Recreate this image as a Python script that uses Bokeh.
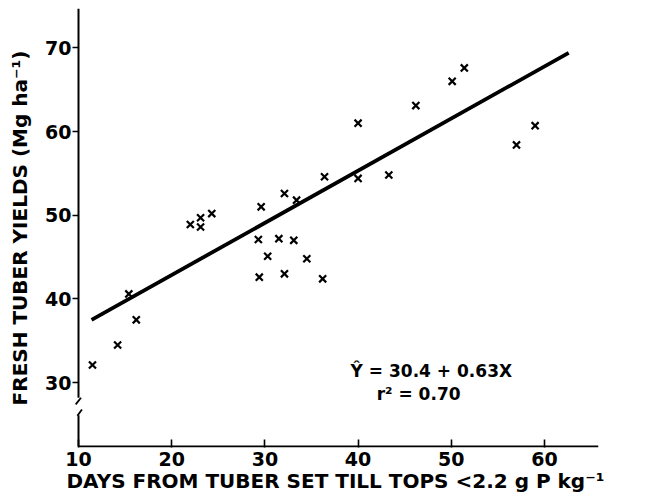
from bokeh.plotting import figure
from bokeh.models import FixedTicker, Label, Range1d
from bokeh.embed import file_html
from bokeh.resources import INLINE

# ---- data ----
days = [11.5, 14.2, 15.4, 16.2, 22.0, 23.1, 23.1, 24.3, 29.3, 29.4, 29.6, 30.3,
        31.5, 32.1, 32.1, 33.1, 33.4, 34.5, 36.2, 36.4, 40.0, 40.0, 43.3, 46.2,
        50.1, 51.4, 57.0, 59.0]
yields = [32.1, 34.5, 40.6, 37.5, 48.9, 49.7, 48.6, 50.2, 47.1, 42.6, 51.0, 45.1,
          47.2, 43.0, 52.6, 47.0, 51.8, 44.8, 42.4, 54.6, 61.0, 54.4, 54.8, 63.1,
          66.0, 67.6, 58.4, 60.7]
fit_x = [11.4, 62.6]
fit_y = [37.5, 69.4]
x_ticks = [10, 20, 30, 40, 50, 60]
y_ticks = [30, 40, 50, 60, 70]
equation = "Ŷ = 30.4 + 0.63X"
r2_text = "r² = 0.70"
x_title = "DAYS FROM TUBER SET TILL TOPS <2.2 g P kg⁻¹"
y_title = "FRESH TUBER YIELDS (Mg ha⁻¹)"

# axis extents (data units) and y-axis break
X_MIN, X_MAX = 10, 65.8
Y_MIN, Y_MAX = 22.36, 74.7
BREAK_LO, BREAK_HI = 26.1, 28.2

FONT = "DejaVu Sans"

p = figure(width=652, height=499, output_backend="svg", toolbar_location=None,
           x_range=Range1d(9.356, X_MAX), y_range=Range1d(22.25, Y_MAX),
           min_border_left=72, min_border_right=54, min_border_top=8,
           min_border_bottom=52)
p.outline_line_color = None
p.grid.visible = False
p.background_fill_color = "white"
p.border_fill_color = "white"

# hand-drawn axis lines (so the y axis can carry a break)
p.segment(x0=[X_MIN, X_MIN, X_MIN], y0=[Y_MIN, Y_MIN, BREAK_HI],
          x1=[X_MAX, X_MIN, X_MIN], y1=[Y_MIN, BREAK_LO, Y_MAX],
          line_color="black", line_width=2)
p.segment(x0=[X_MIN + 0.27, X_MIN + 0.37], y0=[BREAK_HI, BREAK_LO + 0.7],
          x1=[X_MIN - 0.3, X_MIN - 0.12], y1=[BREAK_HI - 0.8, BREAK_LO - 0.05],
          line_color="black", line_width=1.8)

# regression line
p.line(fit_x, fit_y, line_color="black", line_width=3.8)
# observations
p.scatter(days, yields, marker="x", size=10, line_color="black", line_width=2.2)

def style_axis(ax):
    ax.axis_line_color = None
    ax.major_tick_line_width = 1.6
    ax.minor_tick_line_color = None
    ax.major_label_text_font = FONT
    ax.major_label_text_font_size = "19px"
    ax.major_label_text_font_style = "bold"
    ax.major_label_text_color = "black"
    ax.axis_label_text_font = FONT
    ax.axis_label_text_font_size = "20px"
    ax.axis_label_text_font_style = "bold"
    ax.axis_label_text_color = "black"

xa = p.xaxis[0]
xa.ticker = FixedTicker(ticks=x_ticks)
style_axis(xa)
xa.axis_label = x_title
xa.major_tick_in = 8
xa.major_tick_out = 0
xa.major_label_standoff = 4
xa.axis_label_standoff = 0

ya = p.yaxis[0]
ya.ticker = FixedTicker(ticks=y_ticks)
style_axis(ya)
ya.axis_label = y_title
ya.major_tick_in = 6
ya.major_tick_out = 0
ya.major_label_standoff = 1
ya.axis_label_standoff = 10

# equation annotation
p.add_layout(Label(x=39.2, y=31.4, text=equation, text_align="left",
                   text_baseline="middle", text_font=FONT, text_font_size="17px",
                   text_font_style="bold", text_color="black"))
p.add_layout(Label(x=42.0, y=28.6, text=r2_text, text_align="left",
                   text_baseline="middle", text_font=FONT, text_font_size="17px",
                   text_font_style="bold", text_color="black"))

open("out.html", "w").write(file_html(p, INLINE))
